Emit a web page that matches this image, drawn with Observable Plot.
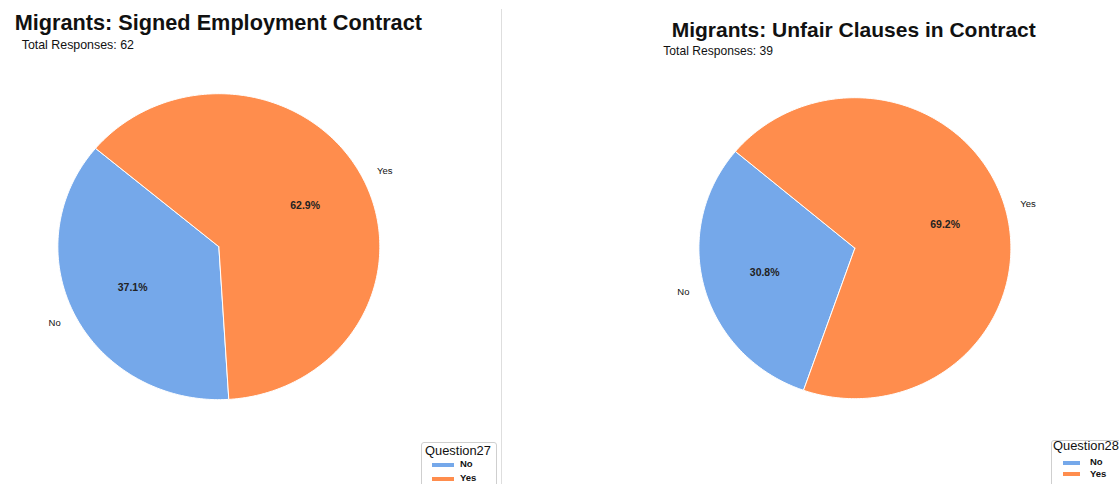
<!DOCTYPE html>
<html><head><meta charset="utf-8">
<script src="https://cdn.jsdelivr.net/npm/d3@7"></script>
<script src="https://cdn.jsdelivr.net/npm/@observablehq/plot@0.6"></script>
<style>
body{margin:0;background:#fff;font-family:"Liberation Sans",Arial,Helvetica,sans-serif;color:#111;}
#fig{position:relative;width:1119px;height:484px;overflow:hidden;background:#fff;}
.abs{position:absolute;white-space:nowrap;line-height:1;}
.title{font-weight:bold;}
.lgbox{position:absolute;border:1px solid #cfcfcf;border-radius:3px;background:#fff;}
.sw{position:absolute;}
.lglab{position:absolute;font-weight:bold;white-space:nowrap;line-height:1;}
</style>
</head><body>
<div id="fig"></div>
<script>
// ---- data ----
const categories = ["No", "Yes"];
const colors = ["#75A8EA", "#FF8D4D"];
const valuesQ27 = [23, 39];   // Signed employment contract
const valuesQ28 = [12, 27];   // Unfair clauses in contract
const titles = ["Migrants: Signed Employment Contract", "Migrants: Unfair Clauses in Contract"];
const legendTitles = ["Question27", "Question28"];
const startAngle = 140;

const fig = document.getElementById("fig");

function pieData(values) {
  const total = d3.sum(values);
  let a0 = startAngle;
  const pts = [], slices = [];
  values.forEach((v, i) => {
    const cat = categories[i];
    const sweep = v / total * 360;
    const n = Math.max(2, Math.ceil(sweep));
    pts.push({cat, x: 0, y: 0});
    for (let k = 0; k <= n; k++) {
      const a = (a0 + sweep * k / n) * Math.PI / 180;
      pts.push({cat, x: Math.cos(a), y: Math.sin(a)});
    }
    pts.push({cat, x: 0, y: 0});
    const m = (a0 + sweep / 2) * Math.PI / 180;
    slices.push({
      cat,
      pct: (v / total * 100).toFixed(1) + "%",
      lx: 1.1 * Math.cos(m), ly: 1.1 * Math.sin(m),
      px: 0.6 * Math.cos(m), py: 0.6 * Math.sin(m)
    });
    a0 += sweep;
  });
  return {pts, slices, total};
}

function pie(values, opt) {
  const {pts, slices} = pieData(values);
  const W = 2 * opt.ax * opt.rx, H = 2 * opt.ay * opt.ry;
  const p = Plot.plot({
    width: W, height: H, margin: 0,
    x: {domain: [-opt.ax, opt.ax], axis: null},
    y: {domain: [-opt.ay, opt.ay], axis: null},
    color: {domain: categories, range: colors},
    style: {fontFamily: '"Liberation Sans", Arial, sans-serif', background: "transparent", overflow: "visible"},
    marks: [
      Plot.line(pts, {x: "x", y: "y", z: "cat", fill: "cat", stroke: "white", strokeWidth: 1, strokeLinejoin: "round", curve: "linear"}),
      Plot.text(slices.filter(d => d.lx < 0), {x: "lx", y: "ly", text: "cat", textAnchor: "end", fontSize: 9.5, fill: "#111"}),
      Plot.text(slices.filter(d => d.lx >= 0), {x: "lx", y: "ly", text: "cat", textAnchor: "start", fontSize: 9.5, fill: "#111"}),
      Plot.text(slices, {x: "px", y: "py", text: "pct", fontSize: 10.5, fontWeight: "bold", fill: "#222"})
    ]
  });
  p.style.position = "absolute";
  p.style.left = (opt.cx - W / 2) + "px";
  p.style.top = (opt.cy - H / 2) + "px";
  fig.appendChild(p);
}

function text(str, cls, left, baseline, fs) {
  const d = document.createElement("div");
  d.className = "abs " + cls;
  d.textContent = str;
  d.style.fontSize = fs + "px";
  d.style.left = left + "px";
  d.style.top = (baseline - 0.8465 * fs) + "px";
  fig.appendChild(d);
}

function legend(title, o) {
  const box = document.createElement("div");
  box.className = "lgbox";
  box.style.left = o.left + "px"; box.style.top = o.top + "px";
  box.style.width = o.w + "px"; box.style.height = o.h + "px";
  fig.appendChild(box);
  text(title, "", o.tx, o.tb, 12.9);
  categories.forEach((c, i) => {
    const s = document.createElement("div");
    s.className = "sw";
    s.style.background = colors[i];
    s.style.left = o.sx + "px"; s.style.width = o.sw + "px";
    s.style.top = (o.sy[i] - 2) + "px"; s.style.height = "4px";
    fig.appendChild(s);
    const l = document.createElement("div");
    l.className = "lglab";
    l.textContent = c;
    l.style.fontSize = "9.5px";
    l.style.left = o.lx + "px";
    l.style.top = (o.lb[i] - 0.8465 * 9.5) + "px";
    fig.appendChild(l);
  });
}

// divider
const dv = document.createElement("div");
dv.style.cssText = "position:absolute;left:501px;top:9px;width:1px;height:480px;background:#dedede;";
fig.appendChild(dv);

pie(valuesQ27, {cx: 218, cy: 246, rx: 161, ry: 153, ax: 1.35, ay: 1.4});
pie(valuesQ28, {cx: 854, cy: 247.5, rx: 156, ry: 150.5, ax: 1.4, ay: 1.4});

text(titles[0], "title", 14.7, 30, 21.7);
text("Total Responses: " + d3.sum(valuesQ27), "", 21.7, 49, 12.4);
text(titles[1], "title", 671.7, 37, 21);
text("Total Responses: " + d3.sum(valuesQ28), "", 663.3, 55, 12.1);

legend(legendTitles[0], {left: 420.7, top: 442.3, w: 74, h: 60, tx: 425, tb: 455.7, sx: 432, sw: 22, sy: [464.7, 478.7], lx: 460, lb: [467.3, 480.7]});
legend(legendTitles[1], {left: 1050.7, top: 440, w: 90, h: 60, tx: 1053, tb: 450.5, sx: 1063, sw: 17, sy: [463, 474], lx: 1090, lb: [465.5, 477]});
</script>
</body></html>
